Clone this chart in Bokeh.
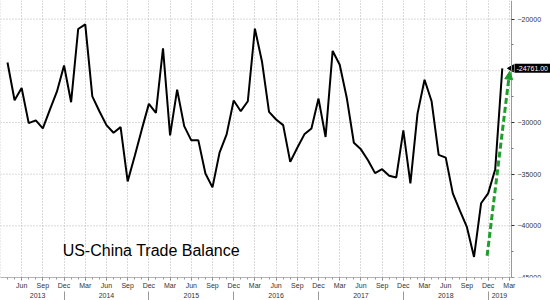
from bokeh.plotting import figure
from bokeh.models import FixedTicker, LinearAxis, Label, Arrow, NormalHead, Range1d
from bokeh.embed import file_html
from bokeh.resources import INLINE

# ---- data: monthly US-China trade balance, Apr 2013 .. Feb 2019 (USD mn) ----
START_YEAR, START_MONTH = 2013, 4
values = [
    -24200, -27850, -26670, -30060, -29800, -30580, -28750, -27000, -24490,             # 2013 Apr-Dec
    -28040, -20960, -20510, -27470, -28910, -30260, -31000, -30450, -35700, -33240, -30670, -28200,  # 2014
    -29070, -22820, -31250, -26830, -30350, -31730, -31730, -34940, -36280, -32920, -31150, -27880,  # 2015
    -28910, -27950, -20930, -24100, -28970, -29710, -30260, -33810, -32440, -31150, -30580, -27690,  # 2016
    -31410, -23080, -24420, -27630, -31960, -32600, -33650, -34900, -34520, -35160, -35320, -30770,  # 2017
    -35900, -29170, -25870, -27950, -33140, -33400, -36860, -38530, -40130, -43010, -37820, -36860,  # 2018
    -34520, -24761,                                                                       # 2019 Jan-Feb
]
month_names = ["Jan", "Feb", "Mar", "Apr", "May", "Jun", "Jul", "Aug", "Sep", "Oct", "Nov", "Dec"]
quarter_months = ["Mar", "Jun", "Sep", "Dec"]
years = ["2013", "2014", "2015", "2016", "2017", "2018", "2019"]
year_label_pos = [4.25, 14.0, 26.0, 38.0, 50.0, 62.0, 69.6]   # month-index positions of year labels
y_ticks = [-45000, -40000, -35000, -30000, -25000, -20000]
y_minor = [-42500, -37500, -32500, -27500, -22500]
title_text = "US-China Trade Balance"
title_pos = (7.8, -42350)
arrow_start = (67.85, -42900)
arrow_end = (71.05, -25050)

AXIS_X = 71.3                  # month-index where the value axis sits
X_RANGE = (-0.99, 76.82)       # extra room on the right for the value labels
Y_RANGE = (-45000, -18200)

# month index (0 = Apr 2013)
xs = list(range(len(values)))
def month_of(i):
    return (START_MONTH - 1 + i) % 12

all_idx = list(range(-1, 72))
quarter_idx = [i for i in all_idx if month_names[month_of(i)] in quarter_months]
dec_idx = [i for i in all_idx if month_names[month_of(i)] == "Dec"]
month_overrides = {i: month_names[month_of(i)] for i in quarter_idx}

p = figure(width=550, height=300, output_backend="svg", toolbar_location=None,
           x_range=Range1d(*X_RANGE), y_range=Range1d(*Y_RANGE),
           y_axis_location="right",
           min_border_left=0, min_border_top=0, min_border_right=0, min_border_bottom=0)
p.outline_line_color = None
p.background_fill_color = "white"

GRID = "#b4b4b4"
# vertical grid
p.xgrid.ticker = FixedTicker(ticks=quarter_idx)
p.xgrid.grid_line_color = GRID
p.xgrid.grid_line_dash = "1 2"
# horizontal grid stops at the value axis
p.ygrid.visible = False
p.segment(x0=[X_RANGE[0]] * len(y_ticks), x1=[AXIS_X] * len(y_ticks), y0=y_ticks, y1=y_ticks,
          line_color=GRID, line_dash="1 2", line_width=1)

# month axis
xa = p.xaxis[0]
xa.ticker = FixedTicker(ticks=quarter_idx, minor_ticks=all_idx)
xa.bounds = (X_RANGE[0], AXIS_X)
xa.major_label_overrides = month_overrides
xa.axis_line_color = GRID
xa.major_tick_line_color = "#777777"
xa.minor_tick_line_color = "#999999"
xa.major_tick_out = 3
xa.major_tick_in = 0
xa.minor_tick_out = 2
xa.minor_tick_in = 0
xa.major_label_standoff = 1
xa.major_label_text_font = "Liberation Sans"
xa.major_label_text_font_size = "7px"
xa.major_label_text_color = "#333333"

# year axis with separators (minor ticks); negative standoff keeps labels beside separators
ya_years = LinearAxis(ticker=FixedTicker(ticks=year_label_pos, minor_ticks=dec_idx),
                      major_label_overrides={pos: yr for pos, yr in zip(year_label_pos, years)})
ya_years.bounds = (X_RANGE[0], AXIS_X)
ya_years.axis_line_color = None
ya_years.major_tick_line_color = None
ya_years.major_tick_out = 0
ya_years.major_tick_in = 0
ya_years.minor_tick_out = 10
ya_years.minor_tick_in = 0
ya_years.minor_tick_line_color = "#999999"
ya_years.major_label_standoff = -9
ya_years.major_label_text_font = "Liberation Sans"
ya_years.major_label_text_font_size = "7px"
ya_years.major_label_text_color = "#333333"
p.add_layout(ya_years, "below")

# right value axis, pinned at AXIS_X inside the frame
yax = p.yaxis[0]
yax.fixed_location = AXIS_X
yax.ticker = FixedTicker(ticks=y_ticks, minor_ticks=y_minor)
yax.major_label_overrides = {-25000: ""}   # hidden behind the last-value tag
yax.axis_line_color = "#999999"
yax.major_tick_line_color = "#333333"
yax.minor_tick_line_color = "#777777"
yax.major_tick_out = 3
yax.major_tick_in = 0
yax.minor_tick_out = 2
yax.minor_tick_in = 0
yax.major_label_standoff = 3
yax.major_label_text_font = "Liberation Sans"
yax.major_label_text_font_size = "7px"
yax.major_label_text_color = "#333333"
yax.formatter.use_scientific = False

# series
p.line(xs, values, line_color="black", line_width=2)

# green trend arrow
green = "#1f9e2c"
p.add_layout(Arrow(end=NormalHead(size=8, fill_color=green, line_color=green),
                   x_start=arrow_start[0], y_start=arrow_start[1],
                   x_end=arrow_end[0], y_end=arrow_end[1],
                   line_color=green, line_width=3, line_dash="6 3"))

# title text
p.add_layout(Label(x=title_pos[0], y=title_pos[1], text=title_text,
                   text_font="Liberation Sans", text_font_size="16px", text_color="black",
                   text_baseline="alphabetic"))

# last value tag at the value axis
p.scatter(x=[AXIS_X], y=[values[-1]], marker="triangle", angle=1.5708, size=7,
          fill_color="black", line_color="black")
p.text(x=[AXIS_X], y=[values[-1]], text=[f"{values[-1]:.2f}"], x_offset=3,
       text_font={"value": "Liberation Sans"}, text_font_size="7px", text_color="white",
       text_baseline="middle", text_align="left",
       background_fill_color="black", padding=2)

open("out.html", "w").write(file_html(p, INLINE))
